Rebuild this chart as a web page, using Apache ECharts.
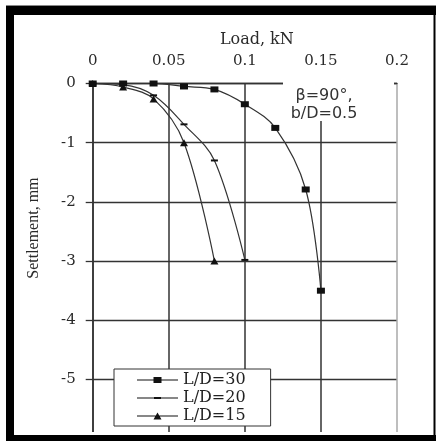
<!DOCTYPE html>
<html>
<head>
<meta charset="utf-8">
<script src="https://cdn.jsdelivr.net/npm/echarts@6/dist/echarts.min.js"></script>
<style>
  html, body { margin: 0; padding: 0; background: #fff; }
  #chart { width: 436px; height: 441px; }
</style>
</head>
<body>
<div id="chart"></div>
<script>
// Load (kN) and settlement (mm) for each pile length ratio
const loadLD30 = [0, 0.02, 0.04, 0.06, 0.08, 0.10, 0.12, 0.14, 0.15];
const settleLD30 = [0, 0, 0, -0.05, -0.10, -0.35, -0.75, -1.79, -3.5];
const loadLD20 = [0, 0.02, 0.04, 0.06, 0.08, 0.10];
const settleLD20 = [0, -0.02, -0.20, -0.69, -1.30, -2.98];
const loadLD15 = [0, 0.02, 0.04, 0.06, 0.08];
const settleLD15 = [0, -0.06, -0.26, -1.0, -3.0];

const seriesNames = ['L/D=30', 'L/D=20', 'L/D=15'];
const xTickLabels = ['0', '0.05', '0.1', '0.15', '0.2'];
const yTickLabels = ['0', '-1', '-2', '-3', '-4', '-5'];

const pairs = (xs, ys) => xs.map((x, i) => [x, ys[i]]);

// legend keys: a thin line with the series marker in its middle
const legendIcons = [
  'path://M0,2.4L41,2.4L41,3.6L0,3.6Z M16.5,0L24.5,0L24.5,6L16.5,6Z',
  'path://M0,0.5L41,0.5L41,1.5L0,1.5Z M17,0L24,0L24,2L17,2Z',
  'path://M0,3L41,3L41,4.1L0,4.1Z M16.5,7L20.5,0L24.5,7Z'
];

const chart = echarts.init(document.getElementById('chart'), null, { renderer: 'canvas' });

const serifLabel = { fontFamily: 'DejaVu Serif', fontSize: 15, color: '#2a2a2a' };
const lineCol = '#333';

const makeSeries = (name, data, symbol, size) => ({
  name,
  type: 'line',
  data,
  smooth: 0.35,
  symbol,
  symbolSize: size,
  showSymbol: true,
  lineStyle: { color: lineCol, width: 1.2 },
  itemStyle: { color: '#111' },
  z: 3
});

chart.setOption({
  animation: false,
  backgroundColor: '#fff',
  grid: { left: 92.7, right: 39, top: 83.5, bottom: 2.3 },
  xAxis: {
    type: 'value',
    position: 'top',
    min: 0,
    max: 0.2,
    interval: 0.05,
    name: 'Load, kN',
    nameLocation: 'middle',
    nameGap: 36,
    nameTextStyle: { fontFamily: 'DejaVu Serif', fontSize: 16, color: '#2a2a2a', padding: [0, 0, 0, 24] },
    axisLine: { show: true, lineStyle: { color: lineCol, width: 1.4 } },
    axisTick: { show: false },
    axisLabel: Object.assign({
      margin: 15,
      formatter: v => xTickLabels[Math.round(v / 0.05)]
    }, serifLabel),
    splitLine: {
      show: true,
      lineStyle: { color: [lineCol, lineCol, lineCol, lineCol, '#a8a8a8'], width: 1.5 }
    }
  },
  yAxis: {
    type: 'value',
    min: -6,
    max: 0,
    interval: 1,
    name: 'Settlement, mm',
    nameLocation: 'middle',
    nameGap: 51,
    nameTextStyle: { fontFamily: 'Liberation Serif', fontSize: 16, color: '#2a2a2a', padding: [0, 0, 0, 66] },
    axisLine: { show: true, lineStyle: { color: lineCol, width: 1.5 } },
    axisTick: { show: true, inside: false, length: 7, lineStyle: { color: lineCol, width: 1.3 } },
    axisLabel: Object.assign({
      margin: 17,
      showMinLabel: false,
      formatter: v => (v <= 0 && v >= -5) ? yTickLabels[Math.round(-v)] : ''
    }, serifLabel),
    splitLine: { show: true, lineStyle: { color: lineCol, width: 1.3 } }
  },
  legend: {
    orient: 'vertical',
    left: 114,
    top: 369,
    data: seriesNames.map((name, i) => ({ name, icon: legendIcons[i] })),
    itemWidth: 41,
    itemHeight: 14,
    itemGap: 2,
    symbolKeepAspect: true,
    padding: [3, 25, 2, 23],
    backgroundColor: '#fff',
    borderColor: '#333',
    borderWidth: 1,
    borderRadius: 0,
    textStyle: { fontFamily: 'DejaVu Serif', fontSize: 16, lineHeight: 16, color: '#222' }
  },
  series: [
    makeSeries(seriesNames[0], pairs(loadLD30, settleLD30), 'rect', [8, 6]),
    makeSeries(seriesNames[1], pairs(loadLD20, settleLD20), 'rect', [7, 2]),
    makeSeries(seriesNames[2], pairs(loadLD15, settleLD15), 'triangle', [8, 7])
  ],
  graphic: [
    // annotation panel with white backing over the grid
    { type: 'rect', z: 1, shape: { x: 283, y: 75, width: 111, height: 46 }, style: { fill: '#fff' } },
    {
      type: 'text', z: 4,
      style: {
        text: 'β=90°,\nb/D=0.5',
        x: 324, y: 105,
        align: 'center', verticalAlign: 'middle',
        font: '16px "DejaVu Sans"', lineHeight: 18,
        fill: '#333'
      }
    },
    // outer frame
    { type: 'rect', z: 100, shape: { x: 14, y: 432, width: 420, height: 3 }, style: { fill: '#fff' } },
    { type: 'rect', z: 100, shape: { x: 6, y: 5, width: 430, height: 1 }, style: { fill: '#888' } },
    { type: 'rect', z: 100, shape: { x: 6, y: 6, width: 430, height: 9 }, style: { fill: '#000' } },
    { type: 'rect', z: 100, shape: { x: 6, y: 6, width: 8, height: 435 }, style: { fill: '#000' } },
    { type: 'rect', z: 100, shape: { x: 433.5, y: 6, width: 2, height: 435 }, style: { fill: '#000' } },
    { type: 'rect', z: 100, shape: { x: 6, y: 435, width: 430, height: 6 }, style: { fill: '#000' } }
  ]
});
</script>
</body>
</html>
